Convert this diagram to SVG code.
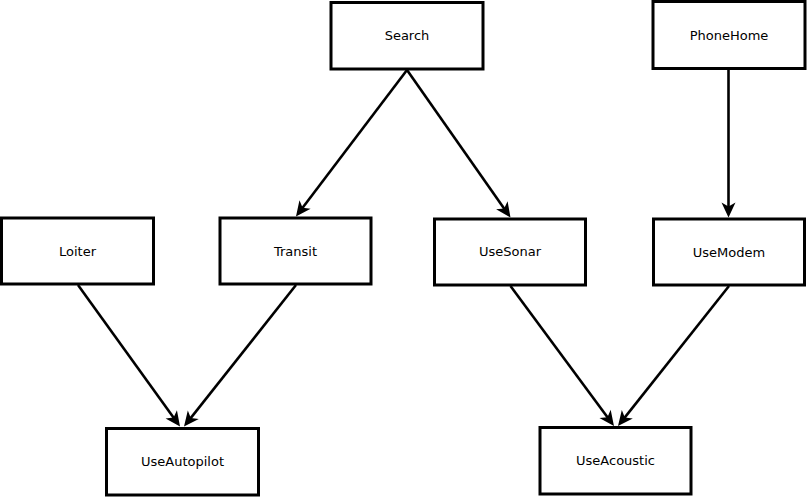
<svg xmlns="http://www.w3.org/2000/svg" width="808" height="497" viewBox="0 0 808 497">
<style>
.box{fill:#fff;stroke:#000;stroke-width:3}
.lbl{font-family:"DejaVu Sans",sans-serif;font-size:13px;fill:#000;text-anchor:middle}
.edge{stroke:#000;stroke-width:2.6;fill:none;marker-end:url(#arr)}
</style>
<defs>
<marker id="arr" markerUnits="userSpaceOnUse" markerWidth="20" markerHeight="16" refX="10" refY="7" orient="auto" overflow="visible">
<path d="M0,0 L15,7 L0,14 L4,7 Z" fill="#000"/>
</marker>
</defs>
<rect width="808" height="497" fill="#fff"/>
<g id="connectors">
<line class="edge" x1="407" y1="70" x2="299" y2="212.5"/>
<line class="edge" x1="407" y1="70" x2="507.6" y2="213.4"/>
<line class="edge" x1="728.5" y1="69" x2="728.5" y2="212.5"/>
<line class="edge" x1="78" y1="285" x2="177.1" y2="422.4"/>
<line class="edge" x1="296" y1="285" x2="187.1" y2="422.6"/>
<line class="edge" x1="510.5" y1="286" x2="611" y2="422"/>
<line class="edge" x1="729" y1="286" x2="621.1" y2="422.1"/>
</g>
<g id="Search"><rect class="box" x="331" y="2.5" width="152" height="66.5"/><text class="lbl" x="407" y="40.3">Search</text></g>
<g id="PhoneHome"><rect class="box" x="653" y="1.5" width="152" height="67"/><text class="lbl" x="729" y="39.5">PhoneHome</text></g>
<g id="Loiter"><rect class="box" x="1.5" y="218" width="152" height="66"/><text class="lbl" x="77.5" y="255.5">Loiter</text></g>
<g id="Transit"><rect class="box" x="220" y="218" width="151" height="66"/><text class="lbl" x="295.5" y="255.5">Transit</text></g>
<g id="UseSonar"><rect class="box" x="434.5" y="219" width="151" height="66"/><text class="lbl" x="510" y="256">UseSonar</text></g>
<g id="UseModem"><rect class="box" x="653.5" y="219" width="151" height="66"/><text class="lbl" x="729" y="256.5">UseModem</text></g>
<g id="UseAutopilot"><rect class="box" x="106.5" y="428.5" width="152" height="66.5"/><text class="lbl" x="182.5" y="466">UseAutopilot</text></g>
<g id="UseAcoustic"><rect class="box" x="540" y="427.5" width="151" height="66.5"/><text class="lbl" x="615.5" y="465">UseAcoustic</text></g>
</svg>
